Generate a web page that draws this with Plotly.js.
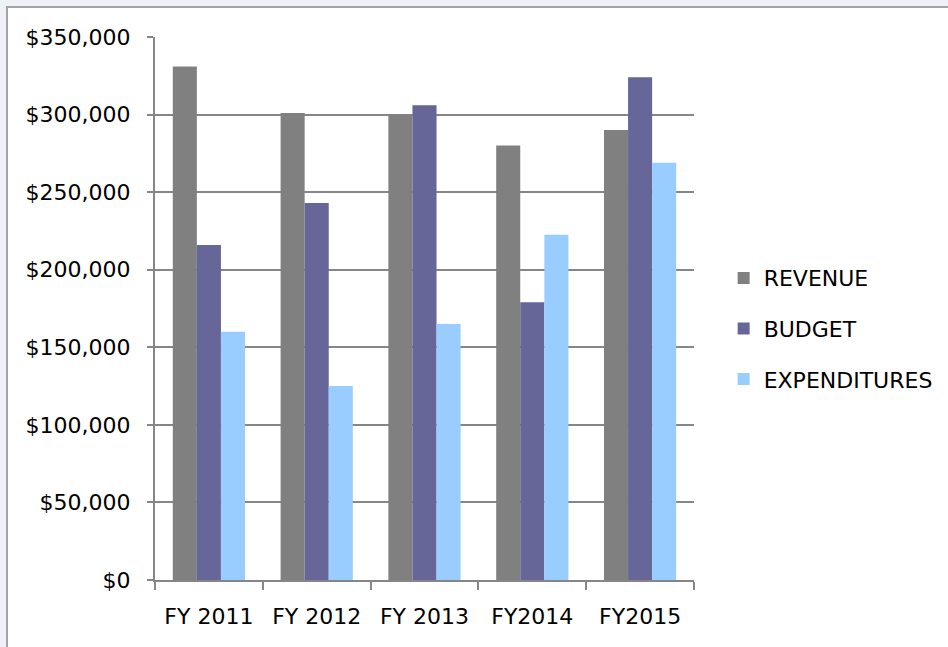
<!DOCTYPE html>
<html>
<head>
<meta charset="utf-8">
<script src="https://cdn.plot.ly/plotly-3.0.1.min.js"></script>
<style>
  html, body { margin: 0; padding: 0; background: #eef1f5; width: 948px; height: 647px; overflow: hidden; }
  #frame { position: absolute; left: 6px; top: 6px; width: 942px; height: 641px; border-left: 2px solid #a3a3a3; border-top: 2px solid #a3a3a3; background: #ffffff; }
  #chart { width: 942px; height: 641px; }
</style>
</head>
<body>
<div id="frame"><div id="chart"></div></div>
<script>
const categories = ["FY 2011", "FY 2012", "FY 2013", "FY2014", "FY2015"];
const revenue = [331000, 301000, 300000, 280000, 290000];
const budget = [216000, 243000, 306000, 179000, 324000];
const expenditures = [160000, 125000, 165000, 222500, 269000];
const yTickVals = [0, 50000, 100000, 150000, 200000, 250000, 300000, 350000];
const yTickText = ["$0", "$50,000", "$100,000", "$150,000", "$200,000", "$250,000", "$300,000", "$350,000"];

const font = "DejaVu Sans, sans-serif";
const gridColor = "#868686";

const traces = [
  { name: "REVENUE", y: revenue, color: "#808080" },
  { name: "BUDGET", y: budget, color: "#666699" },
  { name: "EXPENDITURES", y: expenditures, color: "#99ccff" }
].map((s, i) => ({
  type: "bar",
  x: categories,
  y: s.y,
  name: s.name,
  legendgroup: "g" + i,
  marker: { color: s.color, line: { width: 0 } },
  hoverinfo: "skip"
}));

const layout = {
  width: 942,
  height: 641,
  margin: { l: 147, r: 251, t: 29, b: 69, pad: 0 },
  paper_bgcolor: "#ffffff",
  plot_bgcolor: "#ffffff",
  font: { family: font, size: 22, color: "#000000" },
  barmode: "group",
  bargap: 0.33,
  bargroupgap: 0,
  showlegend: true,
  legend: {
    x: 1.055, y: 0.463, xanchor: "left", yanchor: "middle",
    font: { family: font, size: 22, color: "#000000" },
    tracegroupgap: 19,
    traceorder: "grouped",
    bgcolor: "rgba(0,0,0,0)"
  },
  xaxis: {
    type: "category",
    showgrid: false,
    showline: true,
    linecolor: gridColor,
    linewidth: 2,
    ticks: "outside",
    tickson: "boundaries",
    ticklen: 8,
    tickwidth: 2,
    tickcolor: gridColor,
    tickfont: { family: font, size: 22, color: "#000000" },
    zeroline: false,
    ticklabelstandoff: 16
  },
  yaxis: {
    range: [0, 350000],
    tickmode: "array",
    tickvals: yTickVals,
    ticktext: yTickText,
    showgrid: true,
    gridcolor: gridColor,
    gridwidth: 2,
    showline: true,
    linecolor: gridColor,
    linewidth: 2,
    ticks: "outside",
    ticklen: 6,
    tickwidth: 2,
    tickcolor: gridColor,
    tickfont: { family: font, size: 22, color: "#000000" },
    zeroline: false,
    ticklabelstandoff: 12
  }
};

Plotly.newPlot("chart", traces, layout, { displayModeBar: false, staticPlot: true });
</script>
</body>
</html>
